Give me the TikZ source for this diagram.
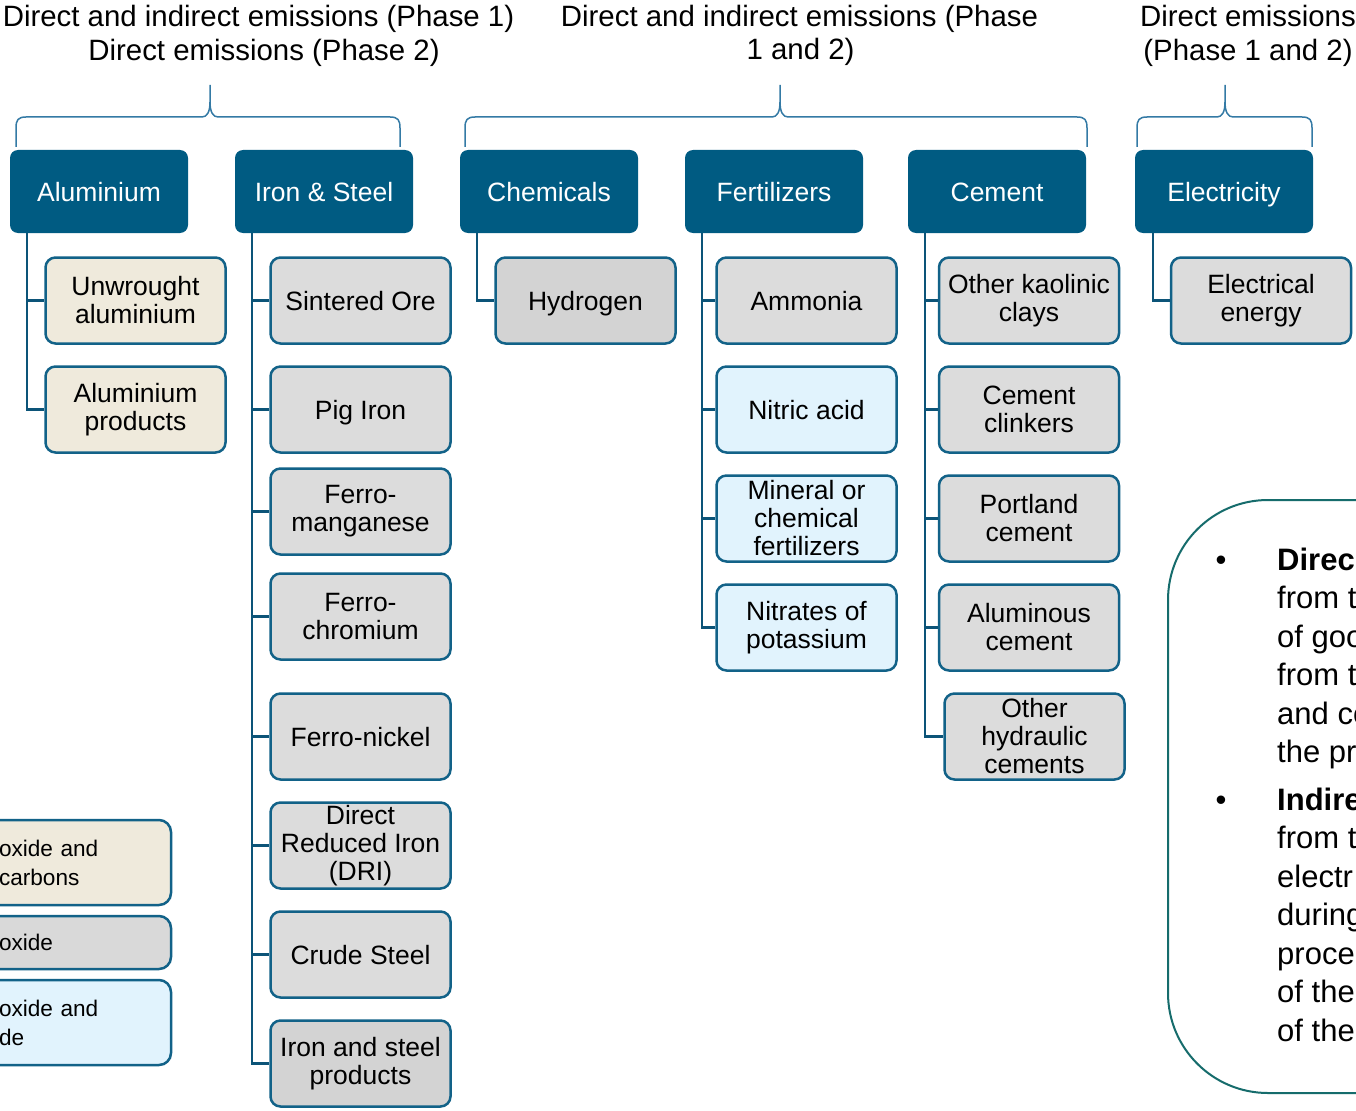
\documentclass[tikz,border=0pt]{standalone}
\usepackage{fontspec}
\setmainfont{Liberation Sans}
\definecolor{hdrblue}{RGB}{0,91,130}
\definecolor{boxline}{RGB}{18,98,136}
\definecolor{connblue}{RGB}{12,84,120}
\definecolor{bracecol}{RGB}{52,122,165}
\definecolor{beige}{RGB}{239,234,220}
\definecolor{greyA}{RGB}{220,220,220}
\definecolor{greyB}{RGB}{211,211,211}
\definecolor{greyL}{RGB}{217,217,217}
\definecolor{lblue}{RGB}{225,243,253}
\definecolor{teal}{RGB}{22,108,108}
\newcommand\drawbrace[3]{%
  \draw[bracepath] (#1,147) -- (#1,128) .. controls (#1,120) and (#1+2,117) .. (#1+10,117) -- (#3-8,117) .. controls (#3-3,117) and (#3,112) .. (#3,102) -- (#3,85);
  \draw[bracepath] (#2,147) -- (#2,128) .. controls (#2,120) and (#2-2,117) .. (#2-10,117) -- (#3+8,117) .. controls (#3+3,117) and (#3,112) .. (#3,102);
}
\begin{document}
\begin{tikzpicture}[x=1pt,y=-1pt,
  hdr/.style={fill=hdrblue, rounded corners=8pt, minimum width=178pt, minimum height=83pt, text=white, font=\fontsize{26.5}{28}\selectfont, inner sep=0pt, text height=19pt, text depth=0pt},
  item/.style={draw=boxline, line width=2.5pt, rounded corners=10pt, minimum width=180pt, minimum height=86pt, align=center, font=\fontsize{26.5}{28}\selectfont, inner sep=0pt},
  one/.style={text height=19pt, text depth=0pt},
  legbox/.style={draw=boxline, line width=2.5pt, rounded corners=12pt, text width=113pt, inner xsep=59pt, inner ysep=0pt, align=left, font=\fontsize{22.6}{29}\selectfont},
  conn/.style={draw=connblue, line width=2.6pt},
  bracepath/.style={draw=bracecol, line width=1.5pt},
  ttl/.style={font=\fontsize{29.4}{34}\selectfont, inner sep=0pt, anchor=base},
  ctxt/.style={font=\fontsize{31}{38.5}\selectfont, inner sep=0pt, anchor=base west},
  bul/.style={font=\fontsize{31}{38.5}\selectfont, inner sep=0pt, anchor=base},
]
\useasboundingbox (0,0) rectangle (1356,1110);
\fill[white] (0,0) rectangle (1356,1110);

% titles
\node[ttl] (t1a) at (258.5,27) {Direct and indirect emissions (Phase 1)};
\node[ttl] (t1b) at (264,61) {Direct emissions (Phase 2)};
\node[ttl] (t2a) at (799.5,27) {Direct and indirect emissions (Phase};
\node[ttl] (t2b) at (800.5,60) {1 and 2)};
\node[ttl] (t3a) at (1248,27) {Direct emissions};
\node[ttl] (t3b) at (1248,61) {(Phase 1 and 2)};

% braces
\drawbrace{16}{400}{210}
\drawbrace{465}{1087}{780}
\drawbrace{1137}{1312}{1225}

% headers
\node[hdr] (alu) at (99,191.5) {Aluminium};
\node[hdr] (iron) at (324,191.5) {Iron \& Steel};
\node[hdr] (chem) at (549,191.5) {Chemicals};
\node[hdr] (fert) at (774,191.5) {Fertilizers};
\node[hdr] (cem) at (997,191.5) {Cement};
\node[hdr] (elec) at (1224,191.5) {Electricity};

% trunk tops
\coordinate (aluT) at (27,233);
\coordinate (ironT) at (252,233);
\coordinate (chemT) at (477,233);
\coordinate (fertT) at (702,233);
\coordinate (cemT) at (925,233);
\coordinate (elecT) at (1153,233);

% aluminium items
\node[item, fill=beige] (a1) at (135.5,300.5) {Unwrought\\aluminium};
\node[item, fill=beige] (a2) at (135.5,409.5) {Aluminium\\products};

% iron items
\node[item, one, fill=greyA] (i1) at (360.5,300.5) {Sintered Ore};
\node[item, one, fill=greyA] (i2) at (360.5,409.5) {Pig Iron};
\node[item, fill=greyA] (i3) at (360.5,511.5) {Ferro-\\manganese};
\node[item, fill=greyA] (i4) at (360.5,616.5) {Ferro-\\chromium};
\node[item, one, fill=greyA] (i5) at (360.5,736.5) {Ferro-nickel};
\node[item, fill=greyA] (i6) at (360.5,845.5) {Direct\\Reduced Iron\\(DRI)};
\node[item, one, fill=greyA] (i7) at (360.5,954.5) {Crude Steel};
\node[item, fill=greyB] (i8) at (360.5,1063.5) {Iron and steel\\products};

% chemicals
\node[item, one, fill=greyB] (c1) at (585.5,300.5) {Hydrogen};

% fertilizers
\node[item, one, fill=greyA] (f1) at (806.5,300.5) {Ammonia};
\node[item, one, fill=lblue] (f2) at (806.5,409.5) {Nitric acid};
\node[item, fill=lblue] (f3) at (806.5,518.5) {Mineral or\\chemical\\fertilizers};
\node[item, fill=lblue] (f4) at (806.5,627.5) {Nitrates of\\potassium};

% cement
\node[item, fill=greyA] (m1) at (1029,300.5) {Other kaolinic\\clays};
\node[item, fill=greyA] (m2) at (1029,409.5) {Cement\\clinkers};
\node[item, fill=greyA] (m3) at (1029,518.5) {Portland\\cement};
\node[item, fill=greyA] (m4) at (1029,627.5) {Aluminous\\cement};
\node[item, fill=greyA] (m5) at (1034.5,736.5) {Other\\hydraulic\\cements};

% electricity
\node[item, fill=greyA] (e1) at (1261,300.5) {Electrical\\energy};

% connectors
\foreach \n in {a1,a2} \draw[conn] (aluT) |- (\n.west);
\foreach \n in {i1,i2,i3,i4,i5,i6,i7,i8} \draw[conn] (ironT) |- (\n.west);
\draw[conn] (chemT) |- (c1.west);
\foreach \n in {f1,f2,f3,f4} \draw[conn] (fertT) |- (\n.west);
\foreach \n in {m1,m2,m3,m4,m5} \draw[conn] (cemT) |- (\n.west);
\draw[conn] (elecT) |- (e1.west);

% legend
\node[legbox, fill=beige, minimum height=85pt] (lg1) at (55.5,862.5) {oxide and\\carbons};
\node[legbox, fill=greyL, minimum height=53pt] (lg2) at (55.5,942.5) {oxide};
\node[legbox, fill=lblue, minimum height=85pt] (lg3) at (55.5,1022.5) {oxide and\\de};

% callout
\draw[draw=teal, line width=2pt, rounded corners=100pt] (1168,500) rectangle (1520,1093);
\node[bul] (b1) at (1221,570) {•};
\node[bul] (b2) at (1221,810) {•};
\node[ctxt] (d1) at (1277,570) {\textbf{Direc}};
\node[ctxt] (d2) at (1277,608.5) {from t};
\node[ctxt] (d3) at (1277,647) {of goo};
\node[ctxt] (d4) at (1277,685.5) {from t};
\node[ctxt] (d5) at (1277,724) {and co};
\node[ctxt] (d6) at (1277,762.5) {the pr};
\node[ctxt] (n1) at (1277,810) {\textbf{Indire}};
\node[ctxt] (n2) at (1277,848.5) {from t};
\node[ctxt] (n3) at (1277,887) {electr};
\node[ctxt] (n4) at (1277,925.5) {during};
\node[ctxt] (n5) at (1277,964) {proce};
\node[ctxt] (n6) at (1277,1002.5) {of the};
\node[ctxt] (n7) at (1277,1041) {of the};
\end{tikzpicture}
\end{document}
